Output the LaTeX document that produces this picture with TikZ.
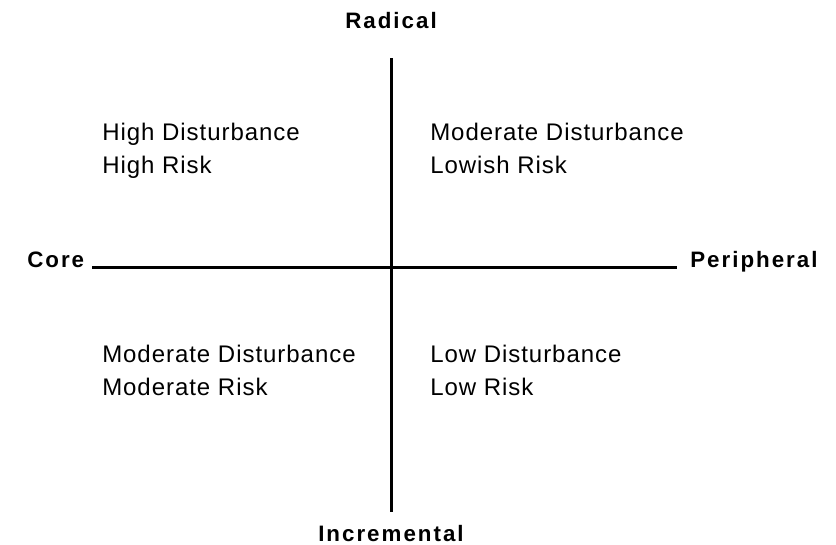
\documentclass[tikz,border=0pt]{standalone}
\usepackage{fontspec}
\setmainfont{Liberation Sans}
\newfontfamily\qfont[LetterSpace=4]{Liberation Sans}
\newfontfamily\afont[LetterSpace=9]{Liberation Sans Bold}
\begin{document}
\begin{tikzpicture}[x=0.75pt,y=-0.75pt,
  axislabel/.style={inner sep=0pt,font=\afont\fontsize{16.75}{20}\selectfont},
  quadtext/.style={inner sep=0pt,align=left,anchor=base west,font=\qfont\fontsize{18}{24.75}\selectfont},
  axisline/.style={line width=2.25pt,black}]
\useasboundingbox (0,0) rectangle (836,544);
\coordinate (top) at (391,58);
\coordinate (bottom) at (391,512);
\coordinate (left) at (92,267);
\coordinate (right) at (677,267);
\draw[axisline] (top) -- (bottom);
\draw[axisline] (left) -- (right);
\node[axislabel,anchor=base] (radical) at (391,28) {Radical};
\node[axislabel,anchor=base] (incremental) at (391,541) {Incremental};
\node[axislabel,anchor=base west] (core) at (27,267) {Core};
\node[axislabel,anchor=base west] (peripheral) at (690,267) {Peripheral};
\node[quadtext] (tl) at (102,173) {High Disturbance\\High Risk};
\node[quadtext] (tr) at (430,173) {Moderate Disturbance\\Lowish Risk};
\node[quadtext] (bl) at (102,395) {Moderate Disturbance\\Moderate Risk};
\node[quadtext] (br) at (430,395) {Low Disturbance\\Low Risk};
\end{tikzpicture}
\end{document}
